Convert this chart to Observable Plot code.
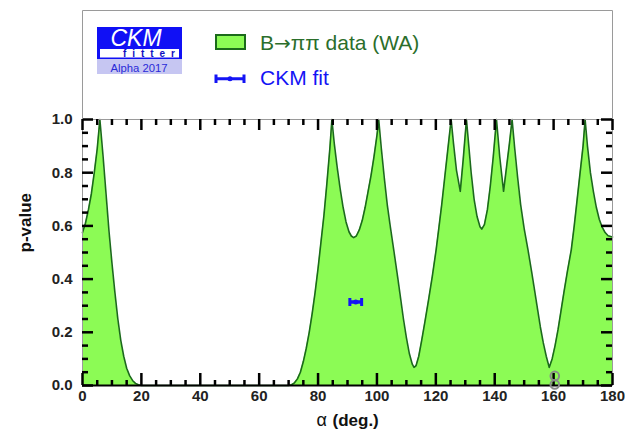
<!DOCTYPE html>
<html>
<head>
<meta charset="utf-8">
<script src="https://cdn.jsdelivr.net/npm/d3@7"></script>
<script src="https://cdn.jsdelivr.net/npm/@observablehq/plot@0.6"></script>
<style>
  html, body { margin: 0; padding: 0; background: #fff; }
  #wrap { position: relative; width: 625px; height: 434px; font-family: "Liberation Sans", Arial, sans-serif; }
  #wrap > svg.plot { position: absolute; left: 0; top: 0; }
  #hdr { position: absolute; left: 0; top: 0; }
</style>
</head>
<body>
<div id="wrap"></div>
<script>
// p-value scan of alpha (deg.) from B -> pi pi data (WA)
const alphaDeg = [0,1,2,3,4,5,5.9,7,8,9,10,11,12,13,14,15,16,17,18,19,20,
  70,71,72,73,74,75,76,77,78,79,80,81,82,83,84,84.7,
  85.5,86.5,87.5,88.5,89.5,90.5,91.3,92.1,93,94,95,96,97,98,99,100,100.6,
  101.5,102.5,103.5,104.5,105.7,107,108,109,110,111,112,112.6,113.3,114.2,115.2,116.3,117.5,118.8,120.1,121,122,123,124,125.2,
  126,127,128.3,129.3,130.4,
  131.2,132,133,134,135,135.6,136.5,137.5,138.5,139.5,140.6,
  141.7,143,144,145,145.9,
  146.8,147.8,148.8,150,151.3,152.5,153.5,154.5,155.5,156.5,157.5,158.5,159.5,160.5,161.5,162.5,163.5,164.7,166,167,168,169,170,170.7,
  171.5,172.5,173.5,174.5,175.5,176.5,177.5,178.5,180];
const pValue = [0.575,0.61,0.66,0.72,0.8,0.89,1.0,0.86,0.72,0.58,0.46,0.35,0.25,0.17,0.11,0.065,0.037,0.019,0.008,0.003,0,
  0,0.003,0.01,0.025,0.05,0.09,0.14,0.2,0.27,0.35,0.44,0.54,0.64,0.76,0.89,1.0,
  0.91,0.82,0.74,0.67,0.615,0.578,0.562,0.556,0.562,0.585,0.62,0.67,0.73,0.79,0.86,0.94,1.0,
  0.89,0.78,0.68,0.6,0.51,0.41,0.33,0.25,0.18,0.12,0.08,0.068,0.075,0.11,0.17,0.24,0.32,0.41,0.51,0.59,0.68,0.78,0.88,1.0,
  0.91,0.81,0.73,0.85,1.0,
  0.9,0.8,0.7,0.635,0.597,0.588,0.605,0.66,0.75,0.86,1.0,
  0.86,0.73,0.82,0.91,1.0,
  0.89,0.78,0.68,0.59,0.51,0.43,0.36,0.29,0.22,0.16,0.11,0.068,0.1,0.15,0.21,0.28,0.35,0.43,0.51,0.6,0.7,0.8,0.9,1.0,
  0.9,0.8,0.73,0.67,0.625,0.595,0.575,0.563,0.558];

// CKM fit point with its horizontal error bar
const fitAlpha = [92.8];
const fitLow = [90.8];
const fitHigh = [94.8];
const fitP = [0.314];

// grey marker near alpha = 160
const markAlpha = [160.4, 160.4];
const markP = [0.036, 0.004];

// ticks
const xMajor = [0,20,40,60,80,100,120,140,160,180];
const xMinor = d3.range(0, 181, 5).filter(d => d % 20 !== 0);
const yMajor = [0,0.2,0.4,0.6,0.8,1.0];
const yMinor = d3.range(0, 21).map(i => i / 20).filter((d, i) => i % 4 !== 0);

const curve = alphaDeg.map((a, i) => ({a, p: pValue[i]}));
const fit = fitAlpha.map((a, i) => ({a, lo: fitLow[i], hi: fitHigh[i], p: fitP[i]}));
const marks8 = markAlpha.map((a, i) => ({a, p: markP[i]}));

const W = 625, H = 434, ML = 82, MR = 13, MT = 119, MB = 49;
const FH = H - MT - MB, FW = W - ML - MR;
const GREEN = "#8cfb55", DGREEN = "#1b6a1b", BLUE = "#1414f5";
const capSymbol = { draw(ctx, size) { const h = Math.sqrt(size / Math.PI); ctx.moveTo(0, -h); ctx.lineTo(0, h); } };

const plot = Plot.plot({
  width: W, height: H,
  marginLeft: ML, marginRight: MR, marginTop: MT, marginBottom: MB,
  style: { fontFamily: "'Liberation Sans', Arial, sans-serif", background: "transparent" },
  x: { domain: [0, 180], axis: null },
  y: { domain: [0, 1], axis: null },
  marks: [
    Plot.areaY(curve, { x: "a", y: "p", fill: GREEN }),
    Plot.line(curve, { x: "a", y: "p", stroke: DGREEN, strokeWidth: 1.6 }),
    Plot.frame({ stroke: "#9a9a9a", strokeWidth: 1 }),
    Plot.ruleY([0], { stroke: "black", strokeWidth: 2 }),
    // bottom ticks
    Plot.tickX(xMajor, { x: d => d, stroke: "black", strokeWidth: 2.5, insetTop: FH - 12 }),
    Plot.tickX(xMinor, { x: d => d, stroke: "black", strokeWidth: 2.5, insetTop: FH - 5 }),
    // top ticks
    Plot.tickX(xMajor, { x: d => d, stroke: "black", strokeWidth: 2.5, insetBottom: FH - 11 }),
    Plot.tickX(xMinor, { x: d => d, stroke: "black", strokeWidth: 2.5, insetBottom: FH - 6 }),
    // left ticks
    Plot.tickY(yMajor, { y: d => d, stroke: "black", strokeWidth: 2.5, insetRight: FW - 11 }),
    Plot.tickY(yMinor, { y: d => d, stroke: "black", strokeWidth: 2.5, insetRight: FW - 6 }),
    // right ticks
    Plot.tickY(yMajor, { y: d => d, stroke: "black", strokeWidth: 2.5, insetLeft: FW - 11 }),
    Plot.tickY(yMinor, { y: d => d, stroke: "black", strokeWidth: 2.5, insetLeft: FW - 6 }),
    Plot.axisX({ ticks: xMajor, tickSize: 0, tickPadding: 5, label: null, fontSize: 15, fontWeight: "bold", fill: "#222" }),
    Plot.axisY({ ticks: yMajor, tickSize: 0, tickPadding: 10, tickFormat: d3.format(".1f"), label: null, fontSize: 15, fontWeight: "bold", fill: "#222" }),
    Plot.text(["p-value"], { frameAnchor: "left", dx: -57, rotate: -90, fontSize: 17, fontWeight: "bold", fill: "#111", lineAnchor: "middle" }),
    Plot.text(["α"], { frameAnchor: "bottom", dx: -31, dy: 40, textAnchor: "start", lineAnchor: "bottom", fontSize: 18, fill: "#111" }),
    Plot.text(["(deg.)"], { frameAnchor: "bottom", dx: -15, dy: 40, textAnchor: "start", lineAnchor: "bottom", fontSize: 17, fontWeight: "bold", fill: "#111" }),
    // CKM fit
    Plot.ruleY(fit, { y: "p", x1: "lo", x2: "hi", stroke: BLUE, strokeWidth: 3.5 }),
    Plot.dot(fit, { x: "lo", y: "p", symbol: capSymbol, r: 4, stroke: BLUE, strokeWidth: 3 }),
    Plot.dot(fit, { x: "hi", y: "p", symbol: capSymbol, r: 4, stroke: BLUE, strokeWidth: 3 }),
    Plot.dot(fit, { x: "a", y: "p", r: 2.5, fill: BLUE }),
    // grey marker
    Plot.dot(marks8, { x: "a", y: "p", r: 4.3, stroke: "#8a8a8a", strokeWidth: 2, fill: "none" })
  ]
});
plot.classList.add("plot");
const wrap = document.getElementById("wrap");
wrap.appendChild(plot);

// header: frame top, CKMfitter logo and legend
const hdr = `
<svg id="hdr" width="625" height="120" xmlns="http://www.w3.org/2000/svg" font-family="'Liberation Sans', Arial, sans-serif">
  <path d="M82.5,119 V10.5 H612.5 V119" fill="none" stroke="#9a9a9a" stroke-width="1"/>
  <rect x="97" y="27" width="85" height="32" fill="#1010f5"/>
  <rect x="100" y="49" width="79" height="8.5" fill="#ffffff"/>
  <text x="136" y="46" text-anchor="middle" font-size="23" font-style="italic" fill="#ffffff">CKM</text>
  <text x="123" y="57" font-size="10" font-weight="bold" fill="#1010c0" textLength="52" lengthAdjust="spacing">fitter</text>
  <rect x="97" y="59" width="85" height="15" fill="#c6c6f2"/>
  <text x="139" y="71.5" text-anchor="middle" font-size="11.3" fill="#2a2ad8">Alpha 2017</text>
  <rect x="216" y="35" width="29" height="14" fill="${GREEN}" stroke="${DGREEN}" stroke-width="2"/>
  <text x="260" y="50" font-size="21" fill="#2b6e2b">B<tspan font-family="'DejaVu Sans'" font-size="20">→</tspan>ππ data (WA)</text>
  <path d="M215,78.8 H245 M216,74.5 V83 M244,74.5 V83" stroke="${BLUE}" stroke-width="3" fill="none"/>
  <circle cx="230" cy="78.8" r="2.5" fill="${BLUE}"/>
  <text x="260" y="84.5" font-size="21" fill="${BLUE}">CKM fit</text>
</svg>`;
wrap.insertAdjacentHTML("beforeend", hdr);
</script>
</body>
</html>
